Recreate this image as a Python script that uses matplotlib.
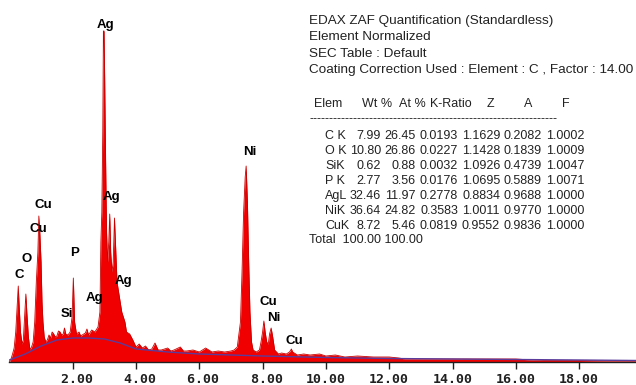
import matplotlib
matplotlib.use("Agg")
import matplotlib.pyplot as plt

# EDS spectrum (energy in keV, counts in arbitrary units)
energy = [0.00, 0.05, 0.10, 0.15, 0.20, 0.25, 0.28, 0.31, 0.35, 0.40, 0.44, 0.48, 0.52, 0.55,
          0.60, 0.65, 0.70, 0.75, 0.80, 0.85, 0.90, 0.93, 0.96, 1.00, 1.03, 1.06, 1.10, 1.15,
          1.20, 1.25, 1.30, 1.35, 1.40, 1.45, 1.50, 1.55, 1.60, 1.65, 1.70, 1.74, 1.78, 1.85,
          1.92, 1.98, 2.02, 2.06, 2.12, 2.20, 2.25, 2.30, 2.40, 2.45, 2.50, 2.60, 2.70, 2.80,
          2.86, 2.89, 2.92, 2.95, 2.97, 2.99, 3.01, 3.04, 3.07, 3.10, 3.14, 3.17, 3.20, 3.24,
          3.28, 3.32, 3.35, 3.40, 3.45, 3.50, 3.55, 3.60, 3.65, 3.70, 3.80, 3.90, 4.00, 4.10,
          4.20, 4.30, 4.40, 4.50, 4.60, 4.70, 4.80, 5.00, 5.10, 5.20, 5.40, 5.50, 5.60, 5.80,
          6.00, 6.20, 6.40, 6.60, 6.80, 7.00, 7.10, 7.20, 7.30, 7.35, 7.40, 7.45, 7.48, 7.52,
          7.56, 7.60, 7.65, 7.70, 7.80, 7.90, 7.95, 8.00, 8.04, 8.08, 8.13, 8.18, 8.22, 8.27,
          8.32, 8.38, 8.50, 8.60, 8.75, 8.85, 8.91, 8.95, 9.10, 9.30, 9.50, 9.80, 10.00, 10.30,
          10.60, 11.00, 11.50, 12.00, 12.30, 12.50, 13.00, 14.00, 15.00, 16.00, 16.50, 17.00,
          18.00, 19.00, 19.80]
counts = [0, 3, 8, 14, 30, 60, 76, 55, 30, 18, 22, 45, 68, 50,
          25, 12, 15, 20, 40, 80, 110, 146, 130, 100, 60, 40, 25, 20,
          22, 27, 24, 30, 28, 25, 26, 31, 30, 27, 28, 34, 28, 27,
          30, 45, 84, 40, 28, 30, 26, 27, 29, 33, 27, 32, 30, 35,
          50, 120, 150, 230, 331, 331, 284, 200, 130, 100, 120, 148, 110, 90,
          100, 144, 120, 80, 70, 60, 50, 45, 40, 30, 28, 22, 15, 18,
          14, 16, 12, 13, 19, 12, 12, 14, 11, 12, 15, 11, 11, 12,
          10, 14, 10, 11, 10, 11, 12, 15, 40, 90, 150, 185, 196, 160,
          100, 50, 20, 12, 10, 12, 20, 30, 41, 30, 20, 18, 28, 34,
          25, 12, 8, 9, 8, 10, 13, 10, 7, 8, 7, 8, 6, 7,
          5, 6, 5, 5, 4, 3, 3, 3, 3, 3, 2, 1.5,
          1.5, 1, 1]

# fitted background (purple line)
bg_energy = [0.0, 0.5, 1.0, 1.5, 2.0, 2.5, 3.0, 3.5, 4.0, 5.0, 6.0, 7.0, 8.0, 10.0, 12.0,
             14.0, 16.0, 18.0, 19.8]
bg_counts = [2, 8, 16, 22, 24, 24, 23, 19, 13, 10, 8, 7, 6, 4.5, 3.5, 3, 2.5, 2, 1.5]

# peak labels: name, energy, height
peak_names = ["Ag", "Ni", "Ag", "Cu", "Cu", "O", "C", "P", "Si", "Ag", "Ag", "Cu", "Ni", "Cu"]
peak_x = [3.05, 7.60, 3.24, 1.06, 0.90, 0.56, 0.30, 2.07, 1.82, 2.70, 3.62, 8.17, 8.36, 8.99]
peak_y = [337, 210, 165, 157, 133, 103, 87, 109, 48, 64, 81, 60, 44, 21]

tick_values = [2, 4, 6, 8, 10, 12, 14, 16, 18]
tick_labels = [" 2.00", " 4.00", " 6.00", " 8.00", "10.00", "12.00", "14.00", "16.00", "18.00"]

header_lines = ["EDAX ZAF Quantification (Standardless)",
                "Element Normalized",
                "SEC Table : Default",
                "Coating Correction Used : Element : C , Factor : 14.00"]
col_names = ["Elem", "Wt %", "At %", "K-Ratio", "Z", "A", "F"]
elements = ["C K", "O K", "SiK", "P K", "AgL", "NiK", "CuK"]
wt_pct = ["7.99", "10.80", "0.62", "2.77", "32.46", "36.64", "8.72"]
at_pct = ["26.45", "26.86", "0.88", "3.56", "11.97", "24.82", "5.46"]
k_ratio = ["0.0193", "0.0227", "0.0032", "0.0176", "0.2778", "0.3583", "0.0819"]
z_corr = ["1.1629", "1.1428", "1.0926", "1.0695", "0.8834", "1.0011", "0.9552"]
a_corr = ["0.2082", "0.1839", "0.4739", "0.5889", "0.9688", "0.9770", "0.9836"]
f_corr = ["1.0002", "1.0009", "1.0047", "1.0071", "1.0000", "1.0000", "1.0000"]
total_line = "Total  100.00 100.00"

W, H = 636, 385
fig = plt.figure(figsize=(W / 100, H / 100), dpi=100)
ax = fig.add_axes([9.4 / W, 23 / H, (W - 9.4) / W, 362 / H])

ax.fill_between(energy, counts, color="#f00000", linewidth=0)
ax.plot(energy, counts, color="#c80000", lw=0.6)
ax.plot(bg_energy, bg_counts, color="#5a3c9c", lw=1.0)

for name, x, y in zip(peak_names, peak_x, peak_y):
    ax.text(x, y, name, ha="center", va="center", fontsize=9.5, fontweight="bold",
            family="Liberation Sans", color="black")

ax.set_xlim(0, (W - 9.4) / 31.65)
ax.set_ylim(0, 362)
for s in ["top", "right", "left"]:
    ax.spines[s].set_visible(False)
ax.spines["bottom"].set_color("#202020")
ax.spines["bottom"].set_linewidth(1.0)
ax.set_yticks([])
ax.set_xticks(tick_values)
ax.set_xticklabels(tick_labels, family="DejaVu Sans Mono", fontweight="bold", fontsize=9.5)
ax.tick_params(axis="x", direction="out", length=5, width=1, pad=3, colors="#202020")


def put(x, y, s, ha="left", fs=9.0):
    fig.text(x / W, 1 - y / H, s, ha=ha, va="center", fontsize=fs,
             family="Liberation Sans", color="#222222")


for i, line in enumerate(header_lines):
    put(309, 21 + i * 16.4, line, fs=9.7)

# column headings
put(314, 104, col_names[0])
put(362, 104, col_names[1])
put(399, 104, col_names[2])
put(430, 104, col_names[3])
for name, xc in zip(col_names[4:], [490, 528, 566]):
    put(xc, 104, name, ha="center")
put(309, 119, "-" * 62)

val_right = [381, 416, 458, 500, 542, 584]
for r, el in enumerate(elements):
    y = 136 + r * 15
    put(325, y, el)
    vals = [wt_pct[r], at_pct[r], k_ratio[r], z_corr[r], a_corr[r], f_corr[r]]
    for v, xr in zip(vals, val_right):
        put(xr, y, v, ha="right")
put(309, 240, total_line)

fig.savefig("out.png", dpi=100)
